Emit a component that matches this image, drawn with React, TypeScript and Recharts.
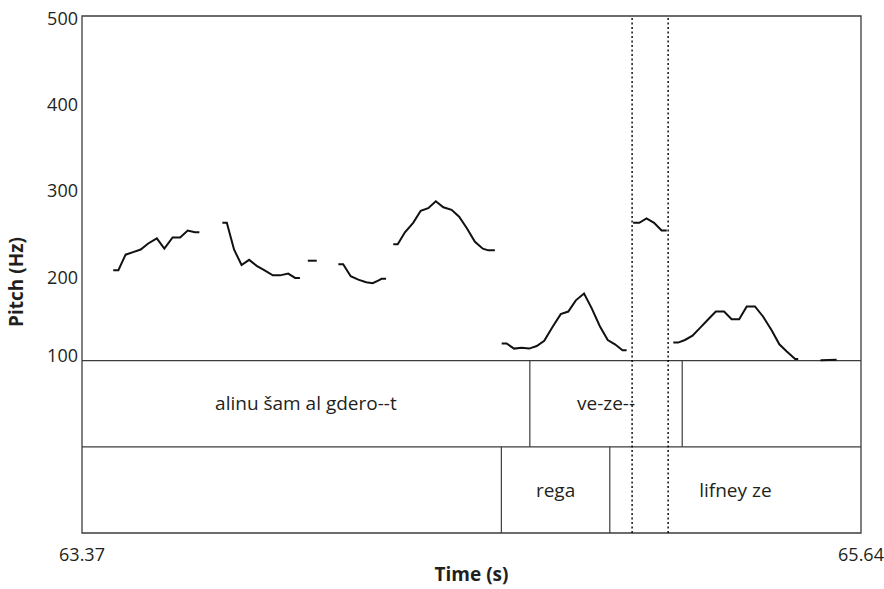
import React from 'react';
import {
  ComposedChart,
  Line,
  XAxis,
  YAxis,
  ReferenceLine,
  ReferenceArea,
} from 'recharts';

// pitch track, one array per voiced stretch: [time (s), f0 (Hz)]
const seg1: [number, number][] = [
  [63.461, 205], [63.476, 205], [63.497, 223], [63.519, 226], [63.541, 229],
  [63.563, 236], [63.588, 242], [63.61, 230], [63.634, 243], [63.656, 243],
  [63.678, 251], [63.699, 249], [63.712, 249],
];
const seg2: [number, number][] = [
  [63.779, 260], [63.792, 260], [63.813, 229], [63.835, 211], [63.857, 217],
  [63.879, 210], [63.901, 205], [63.926, 199], [63.947, 199], [63.971, 201],
  [63.991, 196], [64.005, 196],
];
const seg3: [number, number][] = [[64.028, 216], [64.054, 216]];
const seg4: [number, number][] = [
  [64.117, 212], [64.131, 212], [64.153, 198], [64.175, 194], [64.198, 191],
  [64.217, 190], [64.233, 193], [64.243, 195], [64.256, 195],
];
const seg5: [number, number][] = [
  [64.277, 235], [64.29, 235], [64.311, 249], [64.335, 260], [64.357, 274],
  [64.379, 277], [64.401, 285], [64.423, 278], [64.447, 275], [64.469, 267],
  [64.491, 254], [64.515, 238], [64.538, 230], [64.554, 228], [64.573, 228],
];
const seg6: [number, number][] = [
  [64.593, 120], [64.607, 120], [64.629, 114], [64.651, 115], [64.673, 114],
  [64.695, 117], [64.717, 123], [64.741, 139], [64.765, 154], [64.787, 157],
  [64.809, 170], [64.833, 178], [64.855, 161], [64.879, 140], [64.902, 124],
  [64.923, 119], [64.945, 112], [64.957, 112],
];
const seg7: [number, number][] = [
  [64.976, 260], [64.994, 260], [65.015, 265], [65.037, 260], [65.059, 251],
  [65.074, 251],
];
const seg8: [number, number][] = [
  [65.093, 121], [65.107, 121], [65.127, 124], [65.149, 129], [65.171, 138],
  [65.195, 148], [65.217, 157], [65.241, 157], [65.263, 148], [65.285, 148],
  [65.307, 163], [65.331, 163], [65.355, 151], [65.38, 135], [65.402, 119],
  [65.423, 111], [65.448, 102], [65.457, 102],
];
const seg9: [number, number][] = [[65.522, 100.5], [65.569, 101]];

const segments = [seg1, seg2, seg3, seg4, seg5, seg6, seg7, seg8, seg9];

// time range and axis ticks
const tStart = 63.37;
const tEnd = 65.64;
const timeTicks = [63.37, 65.64];
const pitchTicks = [100, 200, 300, 400, 500];

// annotation tiers: [start, end, label]
const tier1: [number, number, string][] = [
  [63.37, 64.675, 'alinu šam al gdero--t'],
  [64.675, 65.119, 've-ze--'],
  [65.119, 65.64, ''],
];
const tier2: [number, number, string][] = [
  [63.37, 64.592, ''],
  [64.592, 64.908, 'rega'],
  [64.908, 65.64, 'lifney ze'],
];

// highlighted window (dotted lines)
const markers = [64.973, 65.078];

// tiers sit below the pitch range on the same vertical scale
const tier1Top = 100;
const tier1Bottom = 0;
const tier2Bottom = -100;

const FONT = '"Open Sans", "Noto Sans", sans-serif';
const INK = '#231f20';
const FRAME = '#3c3c3c';
const FS = 18;
const FS_LABEL = 19;

const PitchTick = (props: any) => {
  const { x, y, payload } = props;
  const dy = payload.value === 100 ? -6 : 2;
  return (
    <text x={x} y={y + dy} textAnchor="end" dominantBaseline="central"
      fontFamily={FONT} fontSize={FS} fill={INK}>
      {payload.value}
    </text>
  );
};

const PitchTitle = (props: any) => {
  const { viewBox } = props;
  const cx = viewBox.x + 16;
  const cy = 282;
  return (
    <text x={cx} y={cy} transform={`rotate(-90, ${cx}, ${cy})`} textAnchor="middle"
      dominantBaseline="central" fontFamily={FONT} fontSize={FS_LABEL} fontWeight={700} fill={INK}>
      Pitch (Hz)
    </text>
  );
};

export default function App() {
  return (
    <div style={{ position: 'absolute', left: 0, top: 0, background: '#fff' }}>
      <ComposedChart width={884} height={589} margin={{ top: 16, right: 23, bottom: 0, left: 0 }}>
        <XAxis
          dataKey="t"
          type="number"
          domain={[tStart, tEnd]}
          ticks={timeTicks}
          allowDataOverflow
          axisLine={false}
          tickLine={false}
          tickSize={0}
          tickMargin={15}
          height={56}
          tick={{ fontFamily: FONT, fontSize: FS, fill: INK }}
          label={{ value: 'Time (s)', position: 'insideBottom', offset: 8, fontFamily: FONT, fontSize: FS_LABEL, fontWeight: 700, fill: INK }}
        />
        <YAxis
          type="number"
          domain={[tier2Bottom, 500]}
          ticks={pitchTicks}
          allowDataOverflow
          axisLine={false}
          tickLine={false}
          tickSize={0}
          tickMargin={4}
          width={82}
          tick={<PitchTick />}
          label={<PitchTitle />}
        />

        {/* tier boxes and their labels */}
        {tier1.map(([a, b, txt], i) => (
          <ReferenceArea key={`t1-${i}`} x1={a} x2={b} y1={tier1Bottom} y2={tier1Top}
            fill="none" stroke="none"
            label={{ value: txt, position: 'center', fontFamily: FONT, fontSize: FS_LABEL, fill: INK }} />
        ))}
        {tier2.map(([a, b, txt], i) => (
          <ReferenceArea key={`t2-${i}`} x1={a} x2={b} y1={tier2Bottom} y2={tier1Bottom}
            fill="none" stroke="none"
            label={{ value: txt, position: 'center', fontFamily: FONT, fontSize: FS_LABEL, fill: INK }} />
        ))}
        <ReferenceLine y={tier1Top} stroke={FRAME} strokeWidth={1.2} />
        <ReferenceLine y={tier1Bottom} stroke={FRAME} strokeWidth={1.2} />
        {tier1.slice(1).map(([a], i) => (
          <ReferenceLine key={`b1-${i}`} segment={[{ x: a, y: tier1Top }, { x: a, y: tier1Bottom }]}
            stroke={FRAME} strokeWidth={1.2} />
        ))}
        {tier2.slice(1).map(([a], i) => (
          <ReferenceLine key={`b2-${i}`} segment={[{ x: a, y: tier1Bottom }, { x: a, y: tier2Bottom }]}
            stroke={FRAME} strokeWidth={1.2} />
        ))}

        {/* outer frame */}
        <ReferenceArea x1={tStart} x2={tEnd} y1={tier2Bottom} y2={500}
          fill="none" stroke={FRAME} strokeWidth={1.3} />

        {markers.map((t) => (
          <ReferenceLine key={`m-${t}`} x={t} stroke="#000" strokeWidth={1.4} strokeDasharray="2 2.5" />
        ))}

        {segments.map((seg, i) => (
          <Line
            key={`seg-${i}`}
            data={seg.map(([t, hz]) => ({ t, hz }))}
            dataKey="hz"
            type="linear"
            stroke="#111"
            strokeWidth={2}
            dot={false}
            activeDot={false}
            isAnimationActive={false}
          />
        ))}
      </ComposedChart>
    </div>
  );
}
